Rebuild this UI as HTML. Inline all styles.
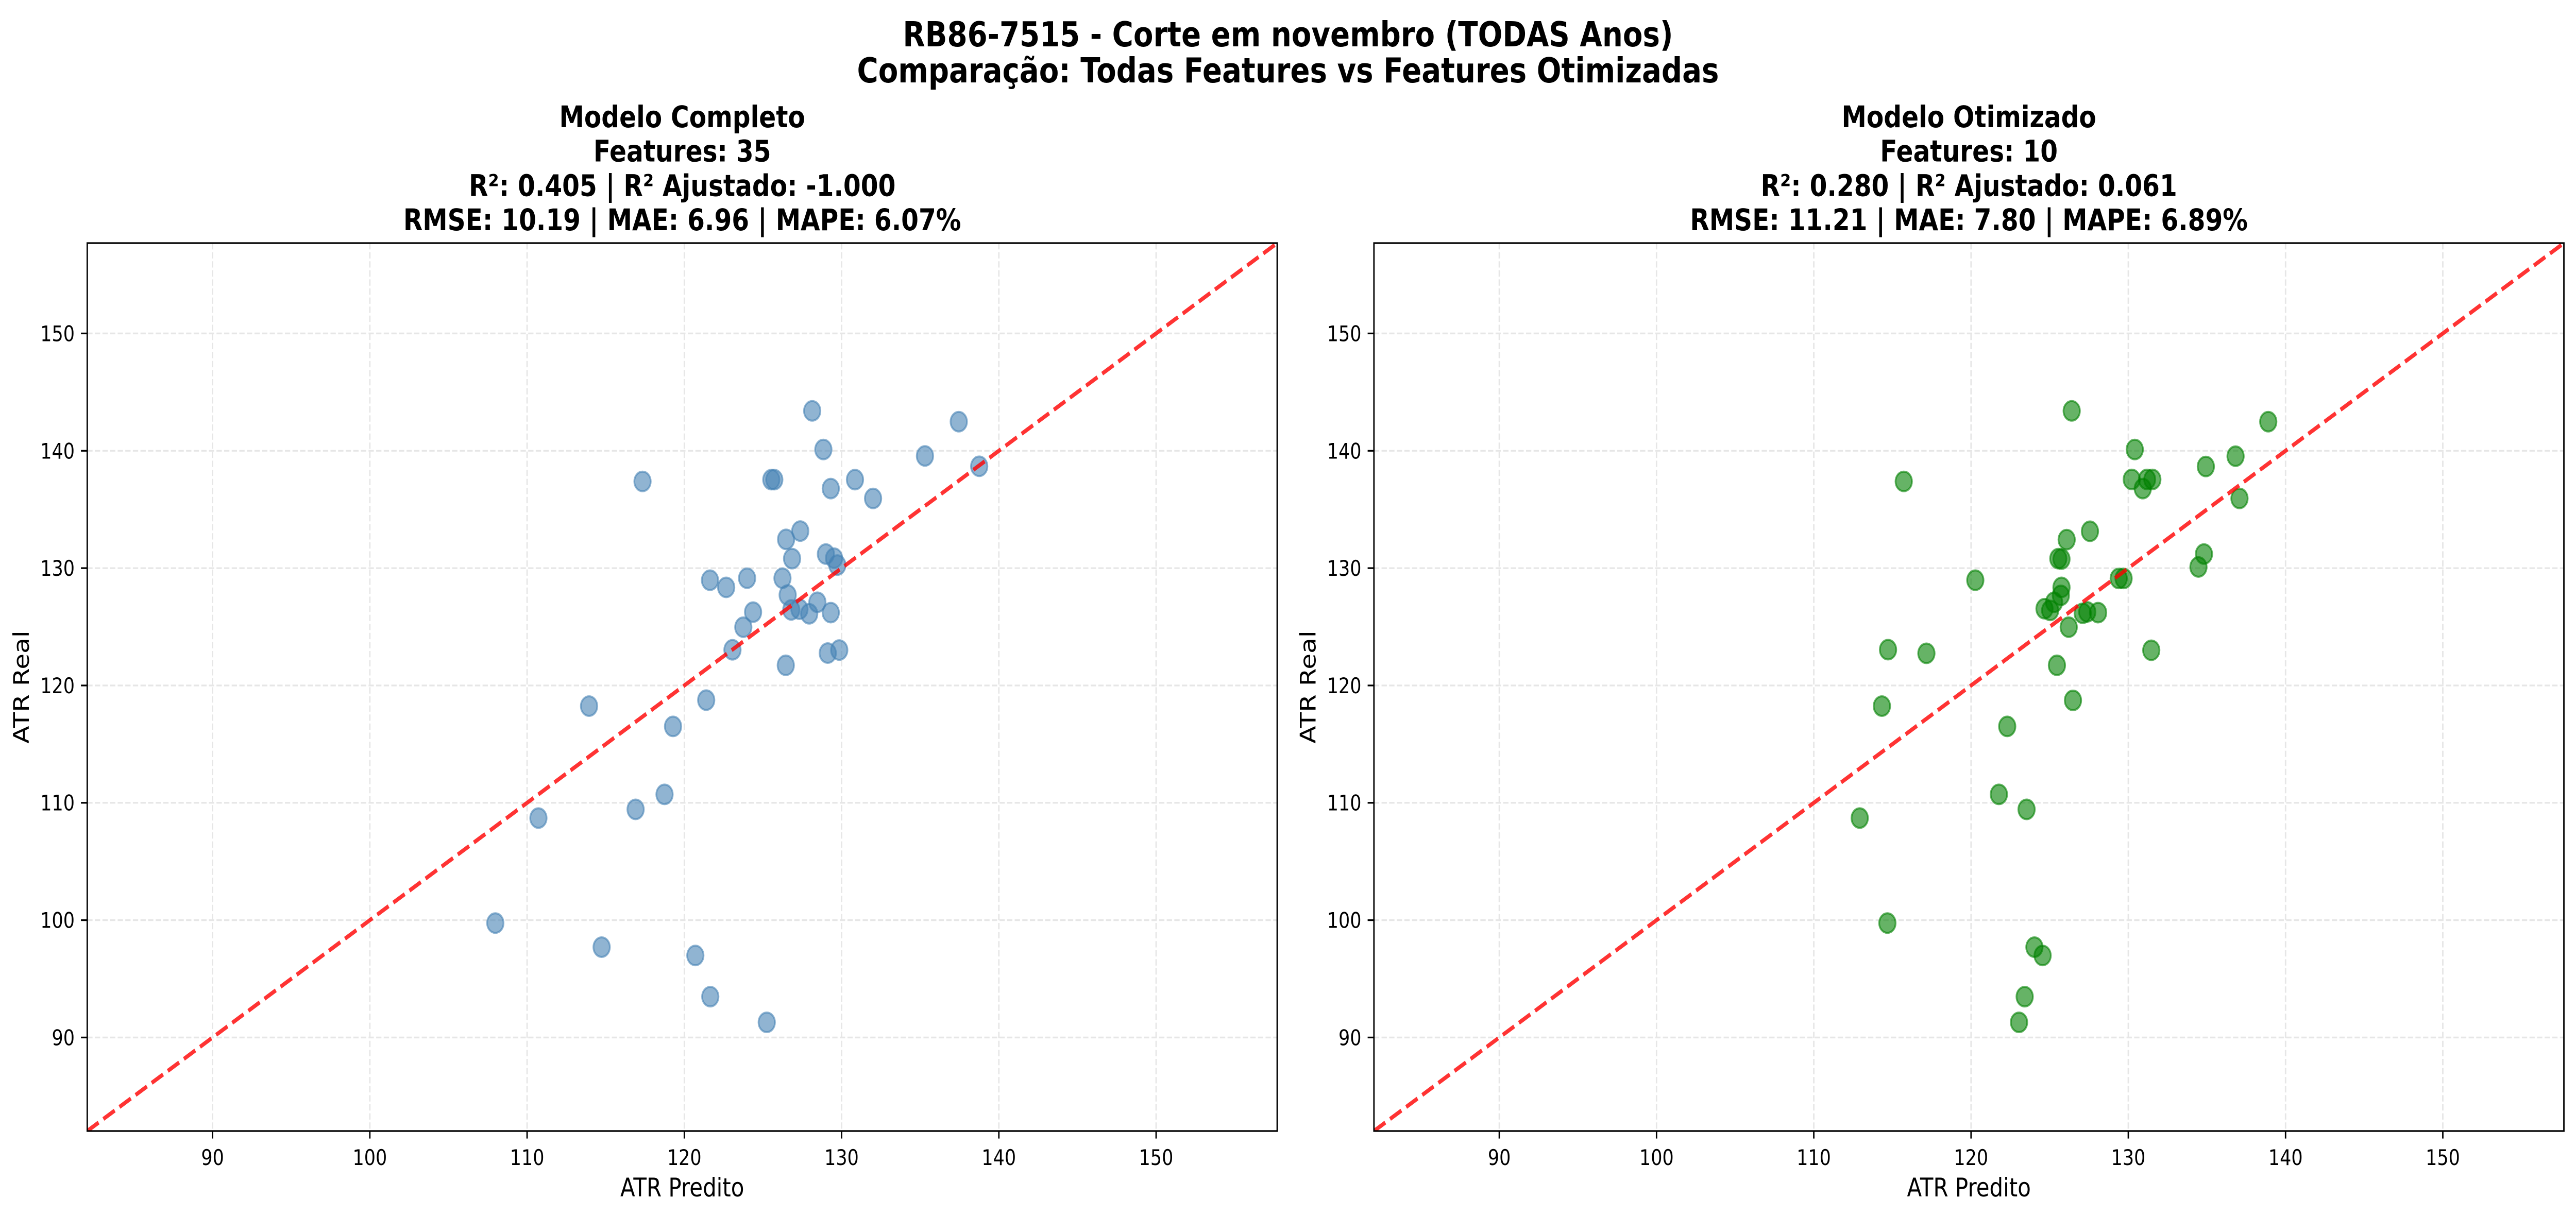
<!DOCTYPE html>
<html><head><meta charset="utf-8"><style>
html,body{margin:0;padding:0;background:#fff;overflow:hidden;width:100%;height:100%;}
svg{display:block;position:fixed;left:0;top:0;width:100vw;height:100vh;}
text{font-family:"DejaVu Sans","Liberation Sans",sans-serif;}
</style></head><body>
<svg id="fig" viewBox="0 0 5964 2361" preserveAspectRatio="none" xmlns="http://www.w3.org/2000/svg">
<rect width="5964" height="2361" fill="#fff"/>
<text x="2982" y="90" font-size="67" font-weight="bold" text-anchor="middle">RB86-7515 - Corte em novembro (TODAS Anos)</text>
<text x="2982" y="160" font-size="67" font-weight="bold" text-anchor="middle">Comparação: Todas Features vs Features Otimizadas</text>
<g id="plots"></g>
</svg>
<script>
const ticks = [90, 100, 110, 120, 130, 140, 150];
const domain = [82.03, 157.7];
const leftPred = [128.13,137.45,128.84,135.30,138.75,117.34,125.53,125.72,130.85,129.31,132.0,127.37,126.47,129.0,129.52,129.73,126.85,121.63,123.99,122.66,126.24,126.57,128.46,127.32,126.8,127.94,129.31,124.37,123.75,123.06,129.12,129.85,126.45,113.94,121.39,119.28,118.74,116.9,110.72,107.98,114.74,120.70,121.65,125.24];
const leftReal = [143.4,142.48,140.11,139.56,138.68,137.39,137.54,137.54,137.54,136.78,135.94,133.16,132.45,131.2,130.85,130.26,130.81,128.97,129.14,128.36,129.14,127.71,127.09,126.5,126.44,126.11,126.21,126.25,124.97,123.04,122.76,123.02,121.72,118.24,118.75,116.51,110.72,109.44,108.7,99.75,97.7,96.99,93.48,91.29];
const rightPred = [126.40,138.9,130.41,136.82,134.93,115.72,130.22,131.19,131.53,130.92,137.07,127.56,126.08,125.55,125.75,134.81,134.46,120.27,129.39,129.70,125.75,125.71,125.28,124.67,125.03,127.10,127.39,128.08,126.21,114.72,117.16,131.46,125.46,114.33,126.48,122.30,121.77,123.53,112.92,114.68,124.03,124.55,123.41,123.05];
const rightReal = [143.4,142.48,140.11,139.54,138.66,137.39,137.56,137.56,137.56,136.78,135.94,133.14,132.43,130.81,130.77,131.2,130.10,128.97,129.12,129.12,128.36,127.68,127.09,126.54,126.40,126.15,126.27,126.21,124.97,123.05,122.74,123.0,121.72,118.24,118.73,116.51,110.72,109.44,108.7,99.75,97.7,96.99,93.48,91.29];
const leftTitle = ["Modelo Completo","Features: 35","R²: 0.405 | R² Ajustado: -1.000","RMSE: 10.19 | MAE: 6.96 | MAPE: 6.07%"];
const rightTitle = ["Modelo Otimizado","Features: 10","R²: 0.280 | R² Ajustado: 0.061","RMSE: 11.21 | MAE: 7.80 | MAPE: 6.89%"];

const NS = "http://www.w3.org/2000/svg";
const root = document.getElementById('plots');
function mk(tag, attrs, parent){
  const e = document.createElementNS(NS, tag);
  for (const k in attrs) e.setAttribute(k, attrs[k]);
  (parent||root).appendChild(e);
  return e;
}
const AX_TOP = 472, AX_BOT = 2196, AX_W = 2755;
function drawPanel(x0, name, pred, real, color, titles){
  const g = mk('g', {});
  
  
  const sx = v => x0 + (v - domain[0]) / (domain[1] - domain[0]) * AX_W;
  const sy = v => AX_BOT - (v - domain[0]) / (domain[1] - domain[0]) * (AX_BOT - AX_TOP);
  ticks.forEach(t => {
    const gl = mk('line', {x1:sx(t), x2:sx(t), y1:AX_TOP, y2:AX_BOT, stroke:'#e6e6e6', 'stroke-width':3.3, 'stroke-dasharray':'12.3 5.3'}, g);
    
    
    const gh = mk('line', {x1:x0, x2:x0+AX_W, y1:sy(t), y2:sy(t), stroke:'#e6e6e6', 'stroke-width':3.3, 'stroke-dasharray':'12.3 5.3'}, g);
    
    
  });
  pred.forEach((p, i) => {
    const c = mk('circle', {cx:sx(p), cy:sy(real[i]), r:19, fill:color, 'fill-opacity':0.6, stroke:color, 'stroke-opacity':0.6, 'stroke-width':4}, g);
    
    
  });
  const cid = 'clip' + x0;
  const cp = mk('clipPath', {id:cid}, g);
  mk('rect', {x:x0, y:AX_TOP, width:AX_W, height:AX_BOT-AX_TOP}, cp);
  const d = mk('line', {x1:sx(domain[0]), y1:sy(domain[0]), x2:sx(domain[1]), y2:sy(domain[1]), stroke:'#ff0000', 'stroke-opacity':0.8, 'stroke-width':8, 'stroke-dasharray':'31 13', 'clip-path':'url(#'+cid+')'}, g);
  
  
  const fr = mk('rect', {x:x0, y:AX_TOP, width:AX_W, height:AX_BOT-AX_TOP, fill:'none', stroke:'#000', 'stroke-width':3.3}, g);
  
  
  ticks.forEach(t => {
    mk('line', {x1:sx(t), x2:sx(t), y1:AX_BOT, y2:AX_BOT+14.6, stroke:'#000', 'stroke-width':3.3}, g);
    const tx = mk('text', {x:sx(t), y:AX_BOT+66, 'font-size':41.7, 'text-anchor':'middle'}, g);
    tx.textContent = t;
    
    
    mk('line', {x1:x0-14.6, x2:x0, y1:sy(t), y2:sy(t), stroke:'#000', 'stroke-width':3.3}, g);
    const ty = mk('text', {x:x0-29, y:sy(t)+15, 'font-size':41.7, 'text-anchor':'end'}, g);
    ty.textContent = t;
    
    
  });
  const xl = mk('text', {x:x0+AX_W/2, y:2323, 'font-size':50, 'text-anchor':'middle'}, g);
  xl.textContent = 'ATR Predito';
  
  
  const ylx = x0 - 135, yly = (AX_TOP+AX_BOT)/2;
  const yl = mk('text', {x:ylx, y:yly, 'font-size':50, 'text-anchor':'middle', transform:'rotate(-90 '+ylx+' '+yly+')'}, g);
  yl.textContent = 'ATR Real';
  
  
  titles.forEach((s, i) => {
    const tt = mk('text', {x:x0+AX_W/2, y:247 + i*66.7, 'font-size':58, 'font-weight':'bold', 'text-anchor':'middle'}, g);
    tt.textContent = s;
    
    
  });
}
drawPanel(202, 'full-model-panel', leftPred, leftReal, '#4682b4', leftTitle);
drawPanel(3181, 'optimized-model-panel', rightPred, rightReal, '#008000', rightTitle);
</script>
</body></html>
